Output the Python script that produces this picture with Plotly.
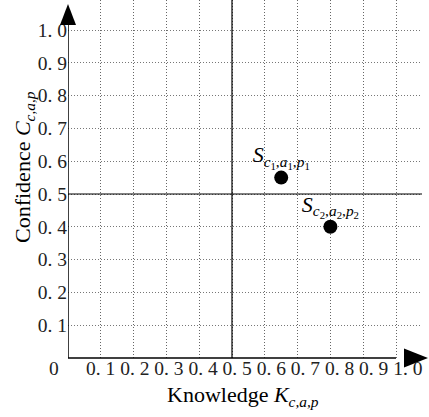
import plotly.graph_objects as go

# ---- data ----
knowledge = [0.65, 0.80]
confidence = [0.55, 0.40]
point_labels = [
    "<i>S</i><sub><i>c</i><sub>1</sub>,<i>a</i><sub>1</sub>,<i>p</i><sub>1</sub></sub>",
    "<i>S</i><sub><i>c</i><sub>2</sub>,<i>a</i><sub>2</sub>,<i>p</i><sub>2</sub></sub>",
]
tick_values = [0.1, 0.2, 0.3, 0.4, 0.5, 0.6, 0.7, 0.8, 0.9, 1.0]
tick_labels = ["0. 1", "0. 2", "0. 3", "0. 4", "0. 5", "0. 6", "0. 7", "0. 8", "0. 9", "1. 0"]
origin_label = "0"
split = 0.5
x_title = "Knowledge <i>K</i><sub><i>c,a,p</i></sub>"
y_title = "Confidence <i>C</i><sub><i>c,a,p</i></sub>"

W, H = 429, 417
L, R, T, B = 68, 7, 0, 59
PW, PH = W - L - R, H - T - B
unit = 328.0  # pixels per data unit
x_max = PW / unit
y_max = PH / unit

FONT = "Liberation Serif"
GRID_DASH = "1px,2px"

fig = go.Figure()

# points
fig.add_trace(go.Scatter(
    x=knowledge, y=confidence, mode="markers+text",
    marker=dict(size=14, color="black"),
    text=point_labels, textposition="top center",
    textfont=dict(family=FONT, size=22, color="black"),
    cliponaxis=False, showlegend=False, hoverinfo="skip",
))

shapes = [
    # axes
    dict(type="line", x0=0, x1=0, y0=0, y1=y_max - 0.06, xref="x", yref="y",
         line=dict(color="black", width=1.5)),
    dict(type="line", x0=-0.015, x1=1, y0=0, y1=0, xref="x", yref="paper",
         line=dict(color="black", width=1.5)),
    # arrow heads (pixel-sized, anchored to the ends of the axes)
    dict(type="path", xref="paper", yref="paper", xsizemode="pixel", ysizemode="pixel",
         xanchor=0, yanchor=1, path="M-8,-25 L8,-25 L0,-4 Z",
         fillcolor="black", line=dict(width=0), layer="above"),
    dict(type="path", xref="paper", yref="paper", xsizemode="pixel", ysizemode="pixel",
         xanchor=1, yanchor=0, path="M-18,-9.5 L-18,9.5 L6,0 Z",
         fillcolor="black", line=dict(width=0), layer="above"),
    # quadrant split lines
    dict(type="line", x0=split, x1=split, y0=0, y1=1, xref="x", yref="paper",
         line=dict(color="black", width=1.2)),
    dict(type="line", x0=0, x1=1, y0=split, y1=split, xref="paper", yref="y",
         line=dict(color="black", width=1.2)),
]

annotations = [
    dict(text=" ".join(tick_labels), x=(253.5 - L) / PW, y=-10 / PH,
         xref="paper", yref="paper", xanchor="center", yanchor="middle",
         showarrow=False, font=dict(family=FONT, size=19.5, color="#222")),
    dict(text=origin_label, x=(54 - L) / PW, y=-10 / PH,
         xref="paper", yref="paper", xanchor="center", yanchor="middle",
         showarrow=False, font=dict(family=FONT, size=19.5, color="#222")),
    dict(text=x_title, x=(243 - L) / PW, y=-38 / PH,
         xref="paper", yref="paper", xanchor="center", yanchor="middle",
         showarrow=False, font=dict(family=FONT, size=22, color="black")),
    dict(text=y_title, x=(24 - L) / PW, y=(358 - 167) / PH,
         xref="paper", yref="paper", xanchor="center", yanchor="middle",
         textangle=-90, showarrow=False, font=dict(family=FONT, size=22, color="black")),
]

fig.update_layout(
    template="none",
    width=W, height=H,
    margin=dict(l=L, r=R, t=T, b=B, pad=0),
    plot_bgcolor="white", paper_bgcolor="white",
    shapes=shapes, annotations=annotations,
    xaxis=dict(range=[0, x_max], tickvals=tick_values, showticklabels=False,
               showgrid=True, gridcolor="#666", griddash=GRID_DASH, gridwidth=1,
               zeroline=False, showline=False, ticks="", automargin=False),
    yaxis=dict(range=[0, y_max], tickvals=tick_values, ticktext=tick_labels,
               tickfont=dict(family=FONT, size=19.5, color="#222"),
               showgrid=True, gridcolor="#777", griddash=GRID_DASH, gridwidth=1,
               zeroline=False, showline=False, ticks="", automargin=False),
)

fig.write_html("out.html", config={"displayModeBar": False},
               post_script="document.body.style.margin='0';document.body.style.padding='0';")
